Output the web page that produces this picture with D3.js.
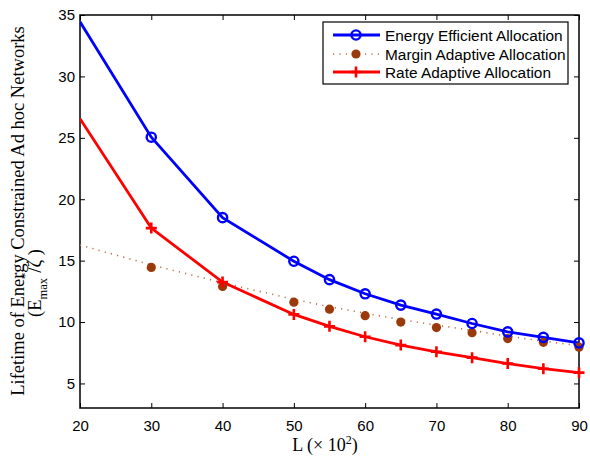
<!DOCTYPE html>
<html><head><meta charset="utf-8">
<script src="https://cdn.jsdelivr.net/npm/d3@7"></script>
<style>body{margin:0;background:#fff}</style>
</head><body>
<svg id="c" width="590" height="456"></svg>
<script>
const L = [20,30,40,50,55,60,65,70,75,80,85,90];
const energyEff = [34.45,25.05,18.5,14.95,13.45,12.3,11.38,10.65,9.88,9.2,8.75,8.3];
const marginFit = [16.27,14.65,13.2,11.85,11.25,10.72,10.2,9.75,9.32,8.85,8.45,8.07];
const marginPts = [null,14.45,12.9,11.62,11.05,10.52,10.0,9.55,9.13,8.65,8.35,7.95];
const rateAdapt = [26.55,17.65,13.25,10.62,9.65,8.8,8.12,7.58,7.1,6.62,6.2,5.88];
const xTicks = [20,30,40,50,60,70,80,90];
const yTicks = [5,10,15,20,25,30,35];
const legendLabels = ["Energy Efficient Allocation","Margin Adaptive Allocation","Rate Adaptive Allocation"];

const svg = d3.select("#c");
const m = {l:80, r:579, t:15, b:408};
const x = d3.scaleLinear().domain([20,90]).range([m.l,m.r]);
const y = d3.scaleLinear().domain([3,35]).range([m.b,m.t]);
const blue="#0000ff", red="#ff0000", brown="#9a3a0a", brownLine="#b9714a";
const sans = "Liberation Sans, Arial, Helvetica, sans-serif";
const serif = "Liberation Serif, Times New Roman, serif";

svg.append("clipPath").attr("id","pc").append("rect")
  .attr("x",m.l).attr("y",m.t).attr("width",m.r-m.l).attr("height",m.b-m.t);

const tk = 5;
const gx = svg.append("g").attr("transform",`translate(0,${m.b})`)
  .call(d3.axisBottom(x).tickValues(xTicks).tickSizeInner(-tk).tickSizeOuter(0).tickPadding(12));
const gxt = svg.append("g").attr("transform",`translate(0,${m.t})`)
  .call(d3.axisTop(x).tickValues(xTicks).tickSizeInner(-tk).tickSizeOuter(0).tickFormat(""));
const gy = svg.append("g").attr("transform",`translate(${m.l},0)`)
  .call(d3.axisLeft(y).tickValues(yTicks).tickSizeInner(-tk).tickSizeOuter(0).tickPadding(5));
const gyr = svg.append("g").attr("transform",`translate(${m.r},0)`)
  .call(d3.axisRight(y).tickValues(yTicks).tickSizeInner(-tk).tickSizeOuter(0).tickFormat(""));
[gx,gxt,gy,gyr].forEach(g=>{
  g.select(".domain").remove();
  g.selectAll(".tick line").attr("stroke","#000").attr("stroke-width",1);
  g.selectAll("text").attr("font-family",sans).attr("font-size",15).attr("fill","#000");
});
svg.append("rect").attr("x",m.l).attr("y",m.t).attr("width",m.r-m.l).attr("height",m.b-m.t)
  .attr("fill","none").attr("stroke","#000").attr("stroke-width",1.5);

const plot = svg.append("g").attr("clip-path","url(#pc)");
const line = d3.line().defined(d=>d[1]!=null).x(d=>x(d[0])).y(d=>y(d[1]));
const zip = arr => L.map((v,i)=>[v,arr[i]]);

plot.append("path").datum(zip(marginFit)).attr("d",line).attr("fill","none")
  .attr("stroke",brownLine).attr("stroke-width",1.6).attr("stroke-dasharray","1.2,5.2");
plot.append("path").datum(zip(energyEff)).attr("d",line).attr("fill","none")
  .attr("stroke",blue).attr("stroke-width",2.8);
plot.append("path").datum(zip(rateAdapt)).attr("d",line).attr("fill","none")
  .attr("stroke",red).attr("stroke-width",2.8);

const markerPts = arr => zip(arr).filter(d=>d[1]!=null && d[0]>20);
function circleM(g,cx,cy){g.append("circle").attr("cx",cx).attr("cy",cy).attr("r",4.6).attr("fill","none").attr("stroke",blue).attr("stroke-width",2.4);}
function dotM(g,cx,cy){g.append("circle").attr("cx",cx).attr("cy",cy).attr("r",4.6).attr("fill",brown);}
function plusM(g,cx,cy){g.append("path").attr("d",`M${cx-5.5},${cy}H${cx+5.5}M${cx},${cy-5.5}V${cy+5.5}`).attr("stroke",red).attr("stroke-width",2.6);}
markerPts(marginPts).forEach(d=>dotM(svg,x(d[0]),y(d[1])));
markerPts(energyEff).forEach(d=>circleM(svg,x(d[0]),y(d[1])));
markerPts(rateAdapt).forEach(d=>plusM(svg,x(d[0]),y(d[1])));

// legend
const lg = svg.append("g");
lg.append("rect").attr("x",323).attr("y",22).attr("width",245).attr("height",62)
  .attr("fill","#fff").attr("stroke","#000").attr("stroke-width",1.2);
const rows=[35,54,72];
legendLabels.forEach((t,i)=>{
  const yy=rows[i];
  if(i===0){lg.append("line").attr("x1",333).attr("x2",380).attr("y1",yy).attr("y2",yy).attr("stroke",blue).attr("stroke-width",2.8);circleM(lg,356,yy);}
  if(i===1){lg.append("line").attr("x1",333).attr("x2",380).attr("y1",yy).attr("y2",yy).attr("stroke",brownLine).attr("stroke-width",1.6).attr("stroke-dasharray","1.2,5.2");dotM(lg,356,yy);}
  if(i===2){lg.append("line").attr("x1",333).attr("x2",380).attr("y1",yy).attr("y2",yy).attr("stroke",red).attr("stroke-width",2.8);plusM(lg,356,yy);}
  lg.append("text").attr("x",385).attr("y",yy+5.5).attr("font-family",sans).attr("font-size",15.4).text(t);
});

// x label
const xl = svg.append("text").attr("x",325).attr("y",451).attr("text-anchor","middle")
  .attr("font-family",serif).attr("font-size",18);
xl.append("tspan").text("L (× 10");
xl.append("tspan").attr("dy",-7).attr("font-size",12).text("2");
xl.append("tspan").attr("dy",7).text(")");

// y label
svg.append("text").attr("transform","translate(24,211) rotate(-90)")
  .attr("text-anchor","middle").attr("font-family",serif).attr("font-size",18.5)
  .text("Lifetime of Energy Constrained Ad hoc Networks");
const yl2 = svg.append("text").attr("transform","translate(41,317) rotate(-90)")
  .attr("text-anchor","start").attr("font-family",serif).attr("font-size",18.5);
yl2.append("tspan").text("(E");
yl2.append("tspan").attr("dy",6).attr("font-size",12.5).text("max");
yl2.append("tspan").attr("dy",-18).attr("dx",-1).attr("font-size",12.5).text("*");
yl2.append("tspan").attr("dy",12).text("/ζ");
yl2.append("tspan").text(" )");
</script>
</body></html>
